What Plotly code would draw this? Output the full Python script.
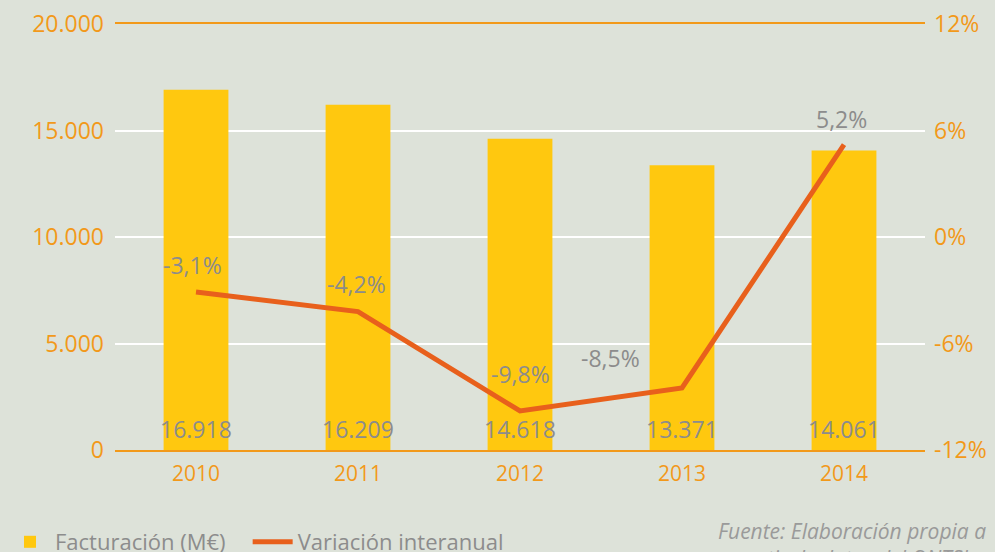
import plotly.graph_objects as go

years = ["2010", "2011", "2012", "2013", "2014"]
facturacion = [16918, 16209, 14618, 13371, 14061]
variacion = [-3.1, -4.2, -9.8, -8.5, 5.2]
left_ticks = [0, 5000, 10000, 15000, 20000]
right_ticks = [-12, -6, 0, 6, 12]

BG = "#dde2d9"
BAR = "#ffc80f"
LINE = "#e8601c"
ORANGE = "#f2991a"
GRAY = "#8c8c8c"
FONT = "Open Sans"

fig = go.Figure()
fig.add_trace(go.Bar(x=years, y=facturacion, name="Facturación (M€)\u00a0\u00a0\u00a0",
                     marker=dict(color=BAR, line=dict(width=0)), width=0.4))
fig.add_trace(go.Scatter(x=years, y=variacion, name="Variación interanual", yaxis="y2",
                         mode="lines", line=dict(color=LINE, width=5)))

def fmt_thousands(v):
    return f"{v:,}".replace(",", ".")

for i, v in enumerate(facturacion):
    fig.add_annotation(x=i, y=0, xref="x", yref="y", text=fmt_thousands(v),
                       showarrow=False, yanchor="bottom", yshift=3,
                       font=dict(family=FONT, size=23, color=GRAY))

offsets = [(-4, 9), (-2, 10), (0, 19), (-72, 12), (-3, 8)]
for i, (v, (dx, dy)) in enumerate(zip(variacion, offsets)):
    fig.add_annotation(x=i, y=v, xref="x", yref="y2",
                       text=f"{v:.1f}".replace(".", ",") + "%",
                       showarrow=False, yanchor="bottom", xshift=dx, yshift=dy,
                       font=dict(family=FONT, size=23, color=GRAY))

fig.add_annotation(x=(716 - 115) / 810, y=(450 - 515) / 426, xref="paper", yref="paper",
                   xanchor="left", yanchor="top", align="left", showarrow=False,
                   text="<i>Fuente: Elaboración propia a</i><br><i>   partir de datos del ONTSI</i>",
                   font=dict(family=FONT, size=21, color="#9a9a9a"))

fig.update_layout(
    width=995, height=552,
    paper_bgcolor=BG, plot_bgcolor=BG,
    margin=dict(l=115, r=70, t=24, b=102, autoexpand=False),
    font=dict(family=FONT, color=ORANGE),
    showlegend=True,
    legend=dict(orientation="h", xref="container", yref="container",
                x=0.005, y=1 - 521 / 552, xanchor="left", yanchor="top",
                font=dict(family=FONT, size=22, color=GRAY), bgcolor="rgba(0,0,0,0)",
                itemwidth=40),
    xaxis=dict(type="category", range=[-0.5, 4.5], showgrid=False, showline=True,
               linecolor=ORANGE, linewidth=2, mirror=True, automargin=False,
               tickfont=dict(size=21, color=ORANGE), ticks="", ticklabelstandoff=4),
    yaxis=dict(range=[0, 20000], tickvals=left_ticks, automargin=False,
               ticktext=[fmt_thousands(t) for t in left_ticks],
               showgrid=True, gridcolor="white", gridwidth=2, zeroline=False,
               tickfont=dict(size=23, color=ORANGE), ticklabelstandoff=10),
    yaxis2=dict(range=[-12, 12], tickvals=right_ticks, automargin=False,
                ticktext=[f"{t}%" for t in right_ticks], overlaying="y", side="right",
                showgrid=False, zeroline=False,
                tickfont=dict(size=23, color=ORANGE), ticklabelstandoff=8),
)

fig.write_html("out.html", config={"displayModeBar": False},
               post_script="document.body.style.margin='0';document.body.style.overflow='hidden';")
